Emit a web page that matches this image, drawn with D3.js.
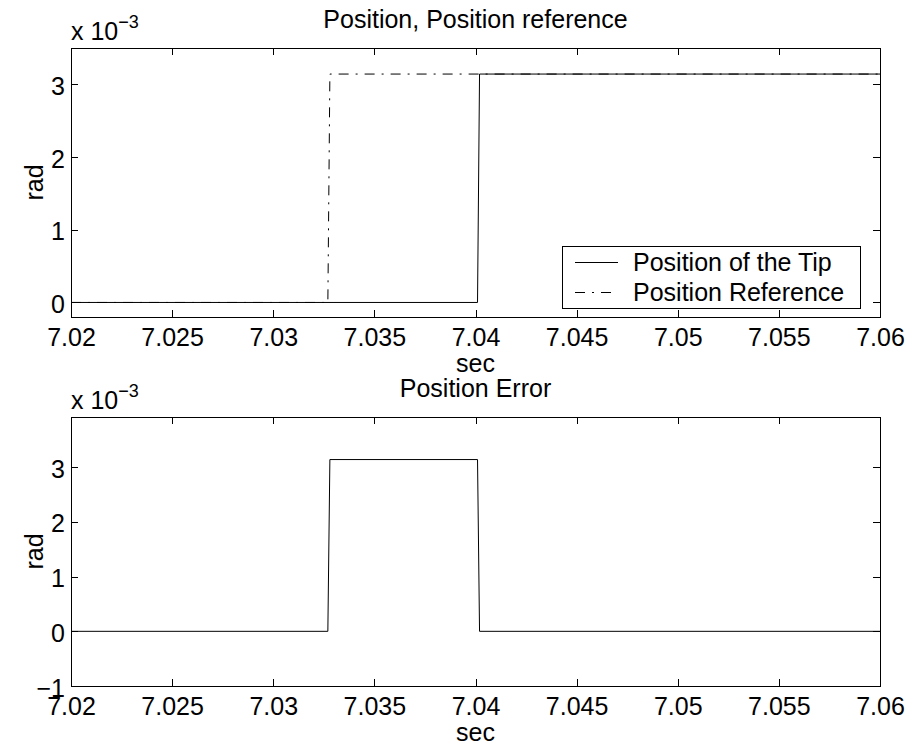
<!DOCTYPE html>
<html>
<head>
<meta charset="utf-8">
<script src="https://cdn.jsdelivr.net/npm/d3@7"></script>
<style>
  html, body { margin: 0; padding: 0; background: #fff; }
  svg { display: block; }
  text { font-family: "Liberation Sans", Arial, Helvetica, sans-serif; fill: #000; }
</style>
</head>
<body>
<svg id="fig" width="908" height="747"></svg>
<script>
// Sampled signals (time in s, angle in rad)
const timeTip = [7.02, 7.0401, 7.0402, 7.06];
const tipPos  = [0, 0, 0.0031416, 0.0031416];
const timeRef = [7.02, 7.0327, 7.0328, 7.06];
const refPos  = [0, 0, 0.0031416, 0.0031416];
const timeErr = [7.02, 7.0327, 7.0328, 7.0401, 7.0402, 7.06];
const errPos  = [0, 0, 0.0031416, 0.0031416, 0, 0];

// Axis ticks
const xTicks      = [7.02, 7.025, 7.03, 7.035, 7.04, 7.045, 7.05, 7.055, 7.06];
const xTickLabels = ["7.02", "7.025", "7.03", "7.035", "7.04", "7.045", "7.05", "7.055", "7.06"];
const yTopTicks      = [0, 0.001, 0.002, 0.003];
const yTopTickLabels = ["0", "1", "2", "3"];
const yBotTicks      = [-0.001, 0, 0.001, 0.002, 0.003];
const yBotTickLabels = ["\u22121", "0", "1", "2", "3"];

// Legend entries
const legendLabels = ["Position of the Tip", "Position Reference"];

const FS = 25;
const svg = d3.select("#fig");
svg.append("rect").attr("width", 908).attr("height", 747).attr("fill", "#fff");

const L = 71, R = 880;
const x = d3.scaleLinear().domain([7.02, 7.06]).range([L, R]);

function panel(cfg) {
  const y = d3.scaleLinear().domain(cfg.yDomain).range([cfg.bottom, cfg.top]);
  const g = svg.append("g");

  // data lines
  const line = d3.line().x(d => x(d[0])).y(d => y(d[1]));
  cfg.series.forEach(s => {
    g.append("path")
      .datum(d3.zip(s.t, s.v))
      .attr("d", line)
      .attr("fill", "none")
      .attr("stroke", "#000")
      .attr("stroke-width", 1)
      .attr("stroke-dasharray", s.dash || null);
  });

  const tickLen = 7;
  // bottom axis with labels
  const gb = g.append("g").attr("transform", `translate(0,${cfg.bottom})`)
    .call(d3.axisBottom(x).tickValues(xTicks).tickSize(-tickLen)
      .tickFormat((d, i) => xTickLabels[i]));
  gb.selectAll("text").attr("y", 29).attr("dy", null)
    .style("font-size", FS + "px");
  // top axis, ticks only
  g.append("g").attr("transform", `translate(0,${cfg.top})`)
    .call(d3.axisTop(x).tickValues(xTicks).tickSize(-tickLen).tickFormat(""));
  // left axis with labels
  const gl = g.append("g").attr("transform", `translate(${L},0)`)
    .call(d3.axisLeft(y).tickValues(cfg.yTicks).tickSize(-tickLen)
      .tickFormat((d, i) => cfg.yTickLabels[i]));
  gl.selectAll("text").attr("x", -6).attr("y", 10).attr("dy", null)
    .style("font-size", FS + "px");
  // right axis, ticks only
  g.append("g").attr("transform", `translate(${R},0)`)
    .call(d3.axisRight(y).tickValues(cfg.yTicks).tickSize(-tickLen).tickFormat(""));

  g.selectAll(".domain").remove();
  g.selectAll(".tick line").attr("stroke", "#000").attr("shape-rendering", "crispEdges");
  g.selectAll("g[font-family]").attr("font-family", null);

  // box
  g.append("rect")
    .attr("x", L + 0.5).attr("y", cfg.top + 0.5)
    .attr("width", R - L).attr("height", cfg.bottom - cfg.top)
    .attr("fill", "none").attr("stroke", "#000").attr("stroke-width", 1.3)
    .attr("shape-rendering", "crispEdges");

  // exponent note
  const ex = g.append("text").attr("x", L).attr("y", cfg.top - 8)
    .style("font-size", FS + "px");
  ex.append("tspan").text("x 10");
  ex.append("tspan").attr("dy", -12).style("font-size", "18px").text("\u22123");

  // title and axis labels
  g.append("text").attr("x", (L + R) / 2).attr("y", cfg.top - 20)
    .attr("text-anchor", "middle").style("font-size", FS + "px").text(cfg.title);
  g.append("text").attr("x", (L + R) / 2).attr("y", cfg.bottom + 55)
    .attr("text-anchor", "middle").style("font-size", FS + "px").text("sec");
  g.append("text")
    .attr("transform", `translate(43,${(cfg.top + cfg.bottom) / 2}) rotate(-90)`)
    .attr("text-anchor", "middle").style("font-size", FS + "px").text("rad");

  return { g, y };
}

// Upper panel: tip position and reference
const upper = panel({
  top: 48, bottom: 317,
  yDomain: [-0.0002, 0.0035],
  yTicks: yTopTicks, yTickLabels: yTopTickLabels,
  title: "Position, Position reference",
  series: [
    { t: timeTip, v: tipPos },
    { t: timeRef, v: refPos, dash: "10,7,2,7" }
  ]
});

// Legend
const lg = upper.g.append("g");
lg.append("rect").attr("x", 562.5).attr("y", 246.5).attr("width", 298).attr("height", 62)
  .attr("fill", "#fff").attr("stroke", "#000").attr("stroke-width", 1.2)
  .attr("shape-rendering", "crispEdges");
const legendDash = [null, "10,7,2,7"];
legendLabels.forEach((lab, i) => {
  const yy = 262 + i * 30;
  lg.append("line").attr("x1", 575).attr("x2", 618).attr("y1", yy + 0.5).attr("y2", yy + 0.5)
    .attr("stroke", "#000").attr("stroke-width", 1).attr("stroke-dasharray", legendDash[i]);
  lg.append("text").attr("x", 633).attr("y", yy + 9).style("font-size", FS + "px").text(lab);
});

// Lower panel: position error
panel({
  top: 417, bottom: 686,
  yDomain: [-0.001, 0.00392],
  yTicks: yBotTicks, yTickLabels: yBotTickLabels,
  title: "Position Error",
  series: [ { t: timeErr, v: errPos } ]
});
</script>
</body>
</html>
